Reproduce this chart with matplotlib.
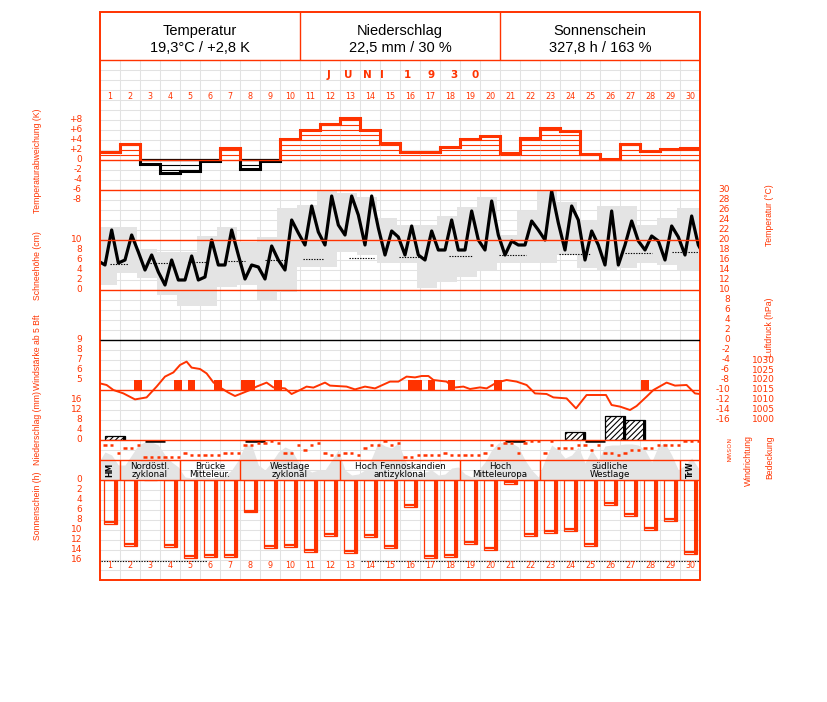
import numpy as np
import matplotlib
matplotlib.use("Agg")
import matplotlib.pyplot as plt
from matplotlib.patches import Rectangle
from matplotlib.transforms import blended_transform_factory

# ---------------- data ----------------
days = list(range(1, 31))

# daily temperature anomaly (K)
temp_anomaly = [1.7, 3.3, -0.7, -2.5, -2.1, -0.2, 2.5, -1.8, -0.2, 4.2,
                6.0, 7.3, 8.5, 6.0, 3.5, 1.7, 1.7, 2.7, 4.2, 4.9,
                1.5, 4.5, 6.5, 5.9, 1.3, 0.3, 3.2, 1.8, 2.2, 2.5]

# temperature readings at the three observation times (deg C)
temp_7h = [15.0, 16.0, 14.0, 11.0, 12.0, 12.6, 15.0, 12.2, 12.2, 14.0,
           19.0, 19.0, 21.0, 19.0, 17.0, 17.0, 16.0, 18.0, 18.0, 18.0,
           17.0, 19.0, 20.0, 18.0, 16.0, 15.0, 19.0, 18.0, 16.0, 17.0]
temp_14h = [22.0, 21.0, 17.0, 16.0, 16.8, 20.0, 22.0, 15.0, 18.8, 24.0,
            26.8, 28.8, 28.8, 28.8, 21.8, 22.8, 21.8, 24.0, 25.8, 27.8,
            19.8, 23.8, 29.8, 26.8, 21.8, 25.8, 23.8, 20.8, 22.8, 24.8]
temp_21h = [15.4, 17.6, 13.6, 12.0, 12.0, 15.0, 17.0, 14.6, 16.0, 21.4,
            21.6, 23.0, 25.0, 22.4, 20.6, 17.0, 18.0, 18.0, 20.0, 21.0,
            19.0, 22.0, 23.4, 24.0, 19.0, 15.0, 19.8, 19.8, 20.6, 19.0]
temp_prev_evening = 15.6
temp_next_morning = 18.4

# daily max / min (grey band)
temp_max = [22.6, 22.6, 18.2, 17.6, 17.6, 20.8, 22.6, 19.6, 20.6, 26.4,
            27.0, 30.0, 29.4, 28.6, 24.4, 23.0, 23.0, 24.8, 26.6, 28.6,
            21.0, 25.8, 30.0, 27.6, 24.0, 26.8, 26.8, 23.0, 24.4, 26.4]
temp_min = [11.0, 13.4, 12.4, 9.0, 6.8, 6.8, 10.6, 11.0, 8.0, 9.6,
            14.6, 14.6, 17.6, 17.0, 15.4, 15.4, 10.4, 11.6, 12.6, 14.0,
            15.4, 15.4, 15.4, 17.0, 14.4, 14.0, 14.4, 15.4, 15.0, 14.0]

# climatological mean temperature (dotted segments, in day units)
clim_from = [0.5, 2.5, 4.4, 6.4, 8.25, 10.15, 12.45, 14.95, 17.45, 19.95, 22.95, 26.25, 28.6]
clim_to = [1.4, 3.5, 5.4, 7.25, 9.25, 11.2, 13.7, 15.95, 18.6, 21.3, 24.5, 27.6, 30.0]
clim_mean = [15.2, 15.4, 15.6, 15.8, 16.0, 16.2, 16.4, 16.6, 16.8, 17.0, 17.2, 17.4, 17.6]

# air pressure (time in days since 1 June 0h, hPa)
pres_time = [0, 0.33, 0.67, 1.17, 1.75, 2.33, 2.83, 3.25, 3.67, 4.0, 4.33, 4.58, 5.0,
             5.33, 5.67, 6.08, 6.42, 6.75, 7.08, 7.5, 7.83, 8.33, 8.67, 9.25, 9.58,
             10.0, 10.33, 10.67, 11.25, 11.5, 12.33, 12.75, 13.25, 13.75, 14.5, 14.92,
             15.33, 15.75, 16.08, 16.42, 16.67, 17.33, 17.67, 18.17, 18.5, 19.0, 19.33,
             19.83, 20.33, 20.83, 21.33, 21.75, 22.33, 22.67, 23.33, 23.8, 24.33, 25.3,
             25.58, 26.0, 26.5, 26.83, 27.33, 27.67, 28.33, 28.75, 29.33, 29.75, 30.0]
pres_hpa = [1018.3, 1017.5, 1015.0, 1013.3, 1010.3, 1011.3, 1016.7, 1021.7, 1023.8, 1027.5,
            1029.2, 1026.2, 1025.5, 1023.3, 1018.8, 1015.8, 1013.7, 1012.0, 1013.3, 1015.0,
            1016.7, 1018.7, 1016.3, 1015.8, 1013.0, 1015.0, 1016.7, 1016.2, 1018.7, 1017.2,
            1016.7, 1015.3, 1016.7, 1015.8, 1019.2, 1019.2, 1021.7, 1021.3, 1022.0, 1022.0,
            1020.0, 1019.2, 1016.2, 1016.7, 1015.5, 1016.3, 1015.8, 1018.7, 1020.0, 1019.2,
            1017.5, 1013.3, 1013.0, 1011.3, 1010.8, 1005.8, 1012.5, 1012.5, 1007.5, 1006.7,
            1005.0, 1007.0, 1011.7, 1015.0, 1018.7, 1017.2, 1017.5, 1013.3, 1013.0]

# wind force >= 5 Bft (day, observation 1..3)
wind_day = [2, 4, 5, 6, 8, 8, 9, 16, 16, 17, 18, 20, 28]
wind_slot = [3, 3, 2, 3, 1, 2, 3, 2, 3, 2, 2, 3, 1]
wind_bft = [5, 5, 5, 5, 5, 5, 5, 5, 5, 5, 5, 5, 5]

# precipitation (mm)
precip_day = [1, 24, 26, 27]
precip_mm = [1.7, 3.1, 9.7, 8.0]
trace_days = [3, 8, 21, 25]

# cloud cover (eighths) at the three observation times
cloud_7h = [5.6, 3.0, 7.6, 5.0, 0.6, 0.6, 0.8, 7.0, 2.0, 6.6, 2.4, 2.0, 2.0, 2.0, 6.8,
            4.0, 1.6, 1.2, 1.2, 3.6, 7.6, 4.0, 4.0, 4.4, 3.4, 6.8, 7.2, 6.0, 7.4, 3.0]
cloud_14h = [5.0, 5.0, 7.6, 3.6, 0.4, 0.4, 2.0, 7.0, 3.6, 6.0, 1.6, 4.0, 1.0, 4.4, 6.4,
             1.6, 2.0, 2.4, 0.6, 6.0, 7.4, 2.0, 7.0, 5.0, 6.0, 7.0, 7.2, 3.6, 5.0, 4.4]
cloud_21h = [3.0, 7.0, 7.0, 2.6, 0.8, 0.6, 4.0, 3.0, 5.6, 3.6, 2.0, 6.0, 1.2, 7.6, 7.4,
             1.2, 1.0, 2.6, 2.0, 7.4, 6.6, 0.6, 6.0, 6.6, 4.0, 7.0, 7.0, 6.8, 2.0, 2.4]
cloud_start = 4.0
cloud_end = 2.0

# wind direction (0=N, 1=NO, 2=O, 3=SO, 4=S, 5=SW, 6=W, 7=NW)
dir_7h = [2, 3, 7, 7, 5, 6, 5, 2, 1, 5, 4, 5, 5, 3, 0, 7, 6, 5, 6, 5, 1, 1, 5, 3, 2, 5, 5, 3, 2, 0]
dir_14h = [2, 3, 7, 7, 6, 6, 5, 2, 0, 5, 2, 6, 5, 2, 2, 7, 6, 6, 6, 2, 1, 0, 0, 3, 4, 5, 4, 3, 2, 0]
dir_21h = [5, 2, 7, 7, 6, 6, 5, 1, 1, 2, 1, 6, 6, 2, 1, 6, 6, 6, 6, 3, 5, 0, 3, 2, 2, 6, 4, 2, 2, 0]
dir_names = ["N", "O", "S", "W", "N"]
dir_name_codes = [0, 2, 4, 6, 8]

# sunshine duration (h)
sun_hours = [8.7, 13.1, 0.0, 13.3, 15.5, 15.3, 15.3, 6.4, 13.5, 13.3,
             14.3, 11.1, 14.5, 11.3, 13.5, 5.3, 15.5, 15.3, 12.7, 13.9,
             0.7, 11.1, 10.5, 10.1, 13.1, 4.9, 7.1, 9.9, 8.1, 14.7]

# weather types (first day, last day)
wt_first = [1, 2, 5, 8, 13, 19, 23, 30]
wt_last = [1, 4, 7, 12, 18, 22, 29, 30]
wt_label = ["HM", "Nordöstl.\nzyklonal", "Brücke\nMitteleur.", "Westlage\nzyklonal",
            "Hoch Fennoskandien\nantizyklonal", "Hoch\nMitteleuropa", "südliche\nWestlage", "TrW"]

header_titles = ["Temperatur", "Niederschlag", "Sonnenschein"]
header_values = ["19,3°C / +2,8 K", "22,5 mm / 30 %", "327,8 h / 163 %"]
month_chars = ["J", "U", "N", "I", "1", "9", "3", "0"]

anom_ticks = [8, 6, 4, 2, 0, -2, -4, -6, -8]
snow_ticks = [10, 8, 6, 4, 2, 0]
windf_ticks = [9, 8, 7, 6, 5]
prec_ticks = [16, 12, 8, 4, 0]
sun_ticks = [0, 2, 4, 6, 8, 10, 12, 14, 16]
temp_ticks = list(range(30, -17, -2))
pres_ticks = [1030, 1025, 1020, 1015, 1010, 1005, 1000]

# ---------------- style ----------------
W, H = 827, 702
RED = "#ff3300"
GRID = "#e2e2e2"
GRAY = "#e4e4e4"
LABFONT = ["Liberation Sans", "DejaVu Sans"]
plt.rcParams["hatch.linewidth"] = 0.8

fig = plt.figure(figsize=(W / 100, H / 100), dpi=100)
fig.patch.set_facecolor("white")


def R(x0, y0, x1, y1):
    return [x0 / W, 1 - y1 / H, (x1 - x0) / W, (y1 - y0) / H]


def panel(x0, y0, x1, y1, ylim):
    ax = fig.add_axes(R(x0, y0, x1, y1))
    ax.set_xlim(0, 30)
    ax.set_ylim(*ylim)
    ax.axis("off")
    return ax


def ft(x, y, s, **kw):
    fig.text(x / W, 1 - y / H, s, **kw)


def yticks(ax, vals, xpix, ha="right", labels=None, fs=6.5):
    tr = blended_transform_factory(fig.transFigure, ax.transData)
    for i, v in enumerate(vals):
        lab = labels[i] if labels else str(v)
        ax.text(xpix / W, v, lab, transform=tr, ha=ha, va="center",
                color=RED, fontsize=fs, clip_on=False)


obs_pos = [(k + 0.75) / 3 for k in range(3)]

# background grid
bg = panel(100, 12, 700, 580, (580, 12))
bg.hlines(np.arange(60, 581, 10), 0, 30, colors=GRID, lw=0.75)
bg.vlines(np.arange(0, 31), 60, 580, colors=GRID, lw=0.75)

# temperature panel
ax_t = panel(100, 190, 700, 340, (0, 30))
edges = np.arange(31) - 0.15
edges[-1] = 30.0
xs = np.repeat(edges, 2)[1:-1]
ax_t.fill_between(xs, np.repeat(temp_min, 2), np.repeat(temp_max, 2), color=GRAY, lw=0)
ax_t.hlines(clim_mean, clim_from, clim_to, colors="black", linestyles=(0, (1.2, 1.2)), lw=0.8)
t_obs = [0] + [i + p for i in range(30) for p in obs_pos] + [30]
v_obs = [temp_prev_evening] + [x for trip in zip(temp_7h, temp_14h, temp_21h) for x in trip] + [temp_next_morning]
ax_t.plot(t_obs, v_obs, color="black", lw=2.3)

ax_snow = panel(100, 240, 700, 290, (0, 10))

# temperature anomaly
ax_a = panel(100, 110, 700, 200, (-8, 10))
for i, a in enumerate(temp_anomaly):
    col = RED if a > 0 else "black"
    sgn = 1 if a > 0 else -1
    levels = [sgn * k for k in range(1, int(abs(a)) + 1)]
    if levels:
        ax_a.hlines(levels, i, i + 1, colors=col, lw=0.8)
    if a < 0:
        ax_a.hlines(0, i, i + 1, colors="black", lw=1.6)
    ax_a.hlines(a, i, i + 1, colors=col, lw=2.2, capstyle="projecting")
for i in range(29):
    a, b = temp_anomaly[i], temp_anomaly[i + 1]
    hi, lo = max(a, b), min(a, b)
    if hi > 0:
        ax_a.vlines(i + 1, max(lo, 0), hi, colors=RED, lw=2.2)
    if lo < 0:
        ax_a.vlines(i + 1, lo, min(hi, 0), colors="black", lw=2.2)

# cloud cover
ax_c = panel(100, 440, 700, 480, (0, 8))
c_obs = [cloud_start] + [x for trip in zip(cloud_7h, cloud_14h, cloud_21h) for x in trip] + [cloud_end]
ax_c.fill_between(t_obs, 0, c_obs, color=GRAY, lw=0)

# pressure
ax_p = panel(100, 340, 700, 440, (990, 1040))
ax_p.plot(pres_time, pres_hpa, color=RED, lw=1.4)

# wind force
ax_w = panel(100, 340, 700, 390, (4, 9))
wx = [d - 1 + (s - 1) / 3 + 0.05 for d, s in zip(wind_day, wind_slot)]
ax_w.bar(wx, [b - 4 for b in wind_bft], bottom=4, width=0.38, align="edge", color=RED, lw=0)

# precipitation
ax_r = panel(100, 390, 700, 440, (0, 20))
rx = [d - 1 + 0.25 for d in precip_day]
ax_r.bar(rx, precip_mm, width=1.0, align="edge", facecolor="white", edgecolor="black",
         hatch="//////", lw=0.9)
ax_r.vlines([x + 0.94 for x in rx], 0, precip_mm, colors="black", lw=2.2)
ax_r.hlines([-0.35] * len(trace_days), [d - 0.75 for d in trace_days],
            [d + 0.25 for d in trace_days], colors="black", lw=1.8, clip_on=False)

# wind direction
ax_d = panel(100, 440, 700, 460, (8.14, -0.3))
d_obs = [x for trip in zip(dir_7h, dir_14h, dir_21h) for x in trip]
td = [i + p for i in range(30) for p in obs_pos]
ax_d.hlines(d_obs, [x - 0.08 for x in td], [x + 0.08 for x in td], colors=RED, lw=1.8)

# sunshine
ax_s = panel(100, 480, 700, 560, (16, 0))
sx = [d - 1 + 0.215 for d in days]
ax_s.bar(sx, sun_hours, width=0.62, align="edge", fill=False, edgecolor=RED, lw=0.9)
ax_s.vlines([x + 0.55 for x in sx], 0, sun_hours, colors=RED, lw=2.2)
sb = [(x, h) for x, h in zip(sx, sun_hours) if h > 0]
ax_s.hlines([h - 0.22 for x, h in sb], [x for x, h in sb], [x + 0.62 for x, h in sb],
            colors=RED, lw=1.6)

# overlay: frame, lines, texts
ov = panel(100, 12, 700, 580, (580, 12))
ov.add_patch(Rectangle((0, 12), 30, 568, fill=False, edgecolor=RED, lw=1.4, clip_on=False))
ov.hlines([60, 160, 190, 240, 290, 390, 440, 460, 480], 0, 30, colors=RED, lw=1.0)
ov.hlines(340, 0, 30, colors="black", lw=1.0)
ov.vlines([10, 20], 12, 60, colors=RED, lw=1.0)
bounds = sorted(set([f - 1 for f in wt_first[1:]]))
ov.vlines(bounds, 460, 480, colors=RED, lw=1.0)
ov.hlines([561, 561], [0.05, 13.05], [5.35, 30], colors="black", linestyles=(0, (1.2, 1.2)), lw=0.8)

for k in range(3):
    ov.text(5 + 10 * k, 31, header_titles[k], ha="center", va="center", fontsize=10.5,
            family="Liberation Sans", color="black")
    ov.text(5 + 10 * k, 47.5, header_values[k], ha="center", va="center", fontsize=10.5,
            family="Liberation Sans", color="black")

month_x = [328.5, 348.3, 367.8, 381.5, 407, 431.5, 453.7, 475]
for ch, x in zip(month_chars, month_x):
    ov.text((x - 100) / 20, 75, ch, ha="center", va="center", fontsize=7.5,
            fontweight="bold", color=RED)

for d in days:
    ov.text(d - 0.5, 96.5, str(d), ha="center", va="center", fontsize=5.8, color=RED)
    ov.text(d - 0.5, 566, str(d), ha="center", va="center", fontsize=5.8, color=RED)

for f, l, lab in zip(wt_first, wt_last, wt_label):
    mid = (f - 1 + l) / 2
    if l == f:
        ov.text(mid, 470, lab, ha="center", va="center", fontsize=5.5, rotation=90,
                color="black", fontweight="bold")
    else:
        ov.text(mid, 470.5, lab, ha="center", va="center", fontsize=6.3, color="black",
                linespacing=0.95)

# tick labels
yticks(ax_a, anom_ticks, 82, labels=["+%d" % v if v > 0 else "%d" % v for v in anom_ticks])
yticks(ax_snow, snow_ticks, 82)
yticks(ax_w, windf_ticks, 82)
yticks(ax_r, prec_ticks, 82)
yticks(ax_s, sun_ticks, 82)
yticks(ax_t, temp_ticks, 730)
yticks(ax_p, pres_ticks, 775)
tr = blended_transform_factory(fig.transFigure, ax_d.transData)
for code, nm in zip(dir_name_codes, dir_names):
    ax_d.text(727 / W, code, nm, transform=tr, ha="center", va="center", fontsize=4.2,
              rotation=-90, color=RED, clip_on=False)

# axis titles
lab_kw = dict(rotation=90, ha="center", va="center", color=RED, fontsize=6.2, family=LABFONT)
ft(37, 161, "Temperaturabweichung (K)", **lab_kw)
ft(37, 266, "Schneehöhe (cm)", **lab_kw)
ft(37, 352, "Windstärke ab 5 Bft", **lab_kw)
ft(37, 428, "Niederschlag (mm)", **lab_kw)
ft(37, 506, "Sonnenschein (h)", **lab_kw)
ft(770, 215, "Temperatur (°C)", **lab_kw)
ft(770, 327, "Luftdruck (hPa)", **lab_kw)
ft(748, 461, "Windrichtung", **lab_kw)
ft(770, 457, "Bedeckung", **lab_kw)

fig.savefig("out.png", dpi=100)
